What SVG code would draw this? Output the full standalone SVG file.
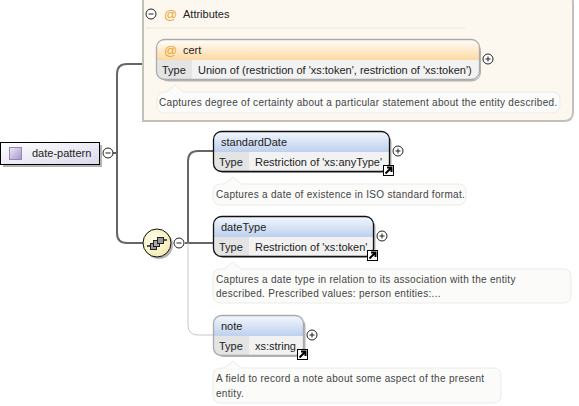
<svg xmlns="http://www.w3.org/2000/svg" width="579" height="406" viewBox="0 0 579 406">
<style>
text{font-family:"Liberation Sans",Arial,sans-serif;font-size:11px;fill:#222}
.note text{font-size:10px;letter-spacing:.3px;fill:#444}
.nb{fill:#fbfbfa;stroke:#ebebe8;stroke-width:1}
.c{fill:none;stroke:#666;stroke-width:2}
.cl{fill:none;stroke:#c8c8c8;stroke-width:1}
.tg{fill:#fff;stroke:#222;stroke-width:1}
.tl{stroke:#222;stroke-width:1;fill:none}
.cell{fill:#e4e4e4}
.val{fill:#f2f2f2}
.bk{fill:none;stroke:#111;stroke-width:1.3}
.bg{fill:none;stroke:#aaa;stroke-width:1.3}
.sh{fill:#b4b4b4}
</style>
<defs>
<linearGradient id="blue" x1="0" y1="0" x2="0" y2="1"><stop offset="0" stop-color="#f4f8fd"/><stop offset="1" stop-color="#bdd0ee"/></linearGradient>
<linearGradient id="org" x1="0" y1="0" x2="0" y2="1"><stop offset="0" stop-color="#fffdf8"/><stop offset="1" stop-color="#fdd9a2"/></linearGradient>
<linearGradient id="root" x1="0" y1="0" x2="1" y2="1"><stop offset="0" stop-color="#ffffff"/><stop offset="1" stop-color="#dcd8ea"/></linearGradient>
<linearGradient id="ic" x1="0" y1="0" x2="1" y2="1"><stop offset="0" stop-color="#efeaf6"/><stop offset="1" stop-color="#a893c9"/></linearGradient>
<radialGradient id="seq" cx=".4" cy=".4" r=".7"><stop offset="0" stop-color="#fffef0"/><stop offset="1" stop-color="#f1e9a8"/></radialGradient>
<g id="plus"><circle r="5" class="tg"/><path d="M-2.5 0H2.5M0-2.5V2.5" class="tl"/></g>
<g id="minus"><circle r="5" class="tg"/><path d="M-2.5 0H2.5" class="tl"/></g>
<g id="lnk"><rect x=".5" y=".5" width="10" height="10" fill="#fff" stroke="#000"/><path d="M2.500 8.500L8 3M4 2.500H8.500V7" stroke="#000" stroke-width="2" fill="none"/></g>
</defs>

<g id="connectors">
<path class="c" d="M142 64H127Q117 64 117 74V233Q117 243 127 243H143"/>
<path class="c" d="M109 153H117"/>
<path class="c" d="M213 151H198Q188 151 188 161V243"/>
<path class="c" d="M185 243H213"/>
<path class="cl" d="M188 243V325Q188 335 198 335H213"/>
</g>

<g id="attributes">
<path d="M143 -6H564Q573 -6 573 3V112Q573 121 564 121H143Z" fill="#fdf8ef" stroke="#c4c0b8" stroke-width="2"/>
<path d="M146 28H465" stroke="#f5efe3" stroke-width="2"/>
<use href="#minus" x="151" y="14"/>
<text x="164" y="19" style="fill:#eda32b;font-size:13px">@</text>
<text x="183" y="18">Attributes</text>
</g>

<g id="cert">
<rect x="159" y="42" width="322" height="39.500" rx="9" class="sh"/>
<path d="M157 60V48Q157 40 165 40H472Q480 40 480 48V60Z" fill="url(#org)"/>
<path d="M157 60H192V80H165Q157 80 157 72Z" class="cell"/>
<path d="M192 60H480V72Q480 80 472 80H192Z" class="val"/>
<rect x="156.500" y="39.500" width="323" height="40" rx="8" class="bg"/>
<text x="164" y="55" style="fill:#eda32b;font-size:13px">@</text>
<text x="183" y="54">cert</text>
<text x="162" y="74">Type</text>
<text x="198" y="74">Union of (restriction of 'xs:token', restriction of 'xs:token')</text>
<use href="#plus" x="488" y="59"/>
</g>
<g id="cert-note" class="note">
<path class="nb" d="M167 92L175 85L183 92H552Q560 92 560 100V105Q560 113 552 113H165Q157 113 157 105V100Q157 92 165 92Z"/>
<text x="159" y="106">Captures degree of certainty about a particular statement about the entity described.</text>
</g>

<g id="date-pattern">
<rect x="3" y="145" width="99" height="22" fill="#b4b4b4"/>
<rect x=".5" y="142.500" width="99" height="22" fill="url(#root)" stroke="#000"/>
<rect x="9.500" y="147.500" width="12" height="12" fill="url(#ic)" stroke="#9a86bd"/>
<text x="32" y="157">date-pattern</text>
<use href="#minus" x="108" y="153"/>
</g>

<g id="sequence">
<circle cx="159" cy="245" r="14" fill="#b4b4b4"/>
<circle cx="157" cy="243" r="14" fill="url(#seq)" stroke="#111" stroke-width="1"/>
<path d="M147 246H151M163 240H167" stroke="#222" stroke-width="1.500"/>
<rect x="150.500" y="243.500" width="6" height="6" fill="#999" stroke="#222"/>
<rect x="153.500" y="240.500" width="6" height="6" fill="#aaa" stroke="#222"/>
<rect x="157.500" y="237.500" width="6" height="6" fill="#999" stroke="#222"/>
<use href="#minus" x="179" y="243"/>
</g>

<g id="standardDate">
<rect x="215" y="133" width="176.500" height="40" rx="9" class="sh"/>
<path d="M213 152V139Q213 131 221 131H382Q390 131 390 139V152Z" fill="url(#blue)"/>
<path d="M213 152H249V172H221Q213 172 213 164Z" class="cell"/>
<path d="M249 152H390V164Q390 172 382 172H249Z" class="val"/>
<rect x="213.500" y="131.500" width="176" height="40" rx="8" class="bk"/>
<text x="221" y="146">standardDate</text>
<text x="219" y="166">Type</text>
<text x="255" y="166">Restriction of 'xs:anyType'</text>
<use href="#plus" x="398" y="151"/>
<use href="#lnk" x="383" y="165"/>
</g>
<g id="standardDate-note" class="note">
<path class="nb" d="M224 184L233 177L241 184H458Q466 184 466 192V197Q466 205 458 205H221Q213 205 213 197V192Q213 184 221 184Z"/>
<text x="216" y="198">Captures a date of existence in ISO standard format.</text>
</g>

<g id="dateType">
<rect x="215" y="218" width="160.500" height="40" rx="9" class="sh"/>
<path d="M213 237V224Q213 216 221 216H366Q374 216 374 224V237Z" fill="url(#blue)"/>
<path d="M213 237H249V257H221Q213 257 213 249Z" class="cell"/>
<path d="M249 237H374V249Q374 257 366 257H249Z" class="val"/>
<rect x="213.500" y="216.500" width="160" height="40" rx="8" class="bk"/>
<text x="221" y="231">dateType</text>
<text x="219" y="251">Type</text>
<text x="255" y="251">Restriction of 'xs:token'</text>
<use href="#plus" x="382" y="236"/>
<use href="#lnk" x="367" y="250"/>
</g>
<g id="dateType-note" class="note">
<path class="nb" d="M224 269L233 262L241 269H563Q571 269 571 277V295Q571 303 563 303H221Q213 303 213 295V277Q213 269 221 269Z"/>
<text x="216" y="283">Captures a date type in relation to its association with the entity</text>
<text x="216" y="297">described. Prescribed values: person entities:...</text>
</g>

<g id="note">
<rect x="215" y="317" width="90.500" height="40" rx="9" class="sh"/>
<path d="M213 336V323Q213 315 221 315H296Q304 315 304 323V336Z" fill="url(#blue)"/>
<path d="M213 336H249V356H221Q213 356 213 348Z" class="cell"/>
<path d="M249 336H304V348Q304 356 296 356H249Z" class="val"/>
<rect x="213.500" y="315.500" width="90" height="40" rx="8" class="bg"/>
<text x="221" y="330">note</text>
<text x="219" y="350">Type</text>
<text x="255" y="350">xs:string</text>
<use href="#plus" x="312" y="335"/>
<use href="#lnk" x="297" y="349"/>
</g>
<g id="note-note" class="note">
<path class="nb" d="M224 368L233 361L241 368H493Q501 368 501 376V395Q501 403 493 403H221Q213 403 213 395V376Q213 368 221 368Z"/>
<text x="216" y="382">A field to record a note about some aspect of the present</text>
<text x="216" y="397">entity.</text>
</g>
</svg>
